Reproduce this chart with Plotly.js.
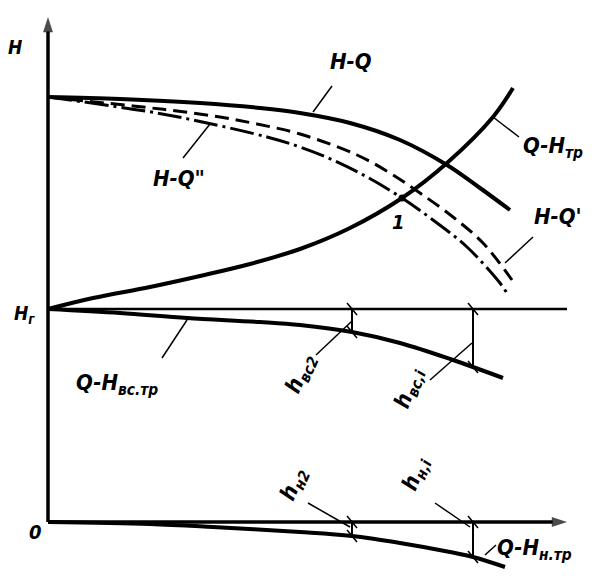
<!DOCTYPE html>
<html><head><meta charset="utf-8">
<script src="https://cdn.plot.ly/plotly-3.0.1.min.js"></script>
<style>html,body{margin:0;padding:0;background:#fff}</style>
</head><body><div id="chart" style="width:604px;height:586px"></div>
<script>
// ---- data (Q, H in drawing units; origin at O) ----
const Hg = 213;
const qHQ   = [0, 72, 152, 212, 252, 302, 352, 399, 432, 462];
const hHQ   = [425, 423, 419, 414, 409, 399, 382, 357, 334, 312];
const qHQ1  = [0, 85, 129, 172, 209, 252, 309, 342, 372, 405, 435, 464];
const hHQ1  = [425, 416, 411, 405, 398, 388, 367, 349, 329, 305, 279, 242];
const qHQ2  = [0, 109, 159, 219, 252, 285, 319, 354, 385, 419, 452, 460];
const hHQ2  = [425, 409, 399, 385, 375, 362, 345, 324, 302, 275, 239, 227];
const qTr   = [0, 45, 102, 152, 202, 252, 302, 354, 399, 445, 465];
const hTr   = [213, 224, 235, 246, 258, 273, 294, 324, 359, 405, 434];
const qVs   = [0, 72, 139, 212, 252, 304, 352, 405, 455];
const hVs   = [213, 209, 204, 200, 197, 190, 179, 162, 144];
const qN    = [0, 102, 165, 252, 304, 352, 402, 425, 457];
const hN    = [0, -2, -5, -10, -14, -21, -30, -35, -45];
const qEnd  = 519;             // end of Hg line / Q axis
const hTop  = 505;             // top of H axis
const dimQ  = [304, 425];      // Q2, Qi
const lossVs = [23, 58];       // h_вс2, h_вс,i
const lossN  = [14, 35];       // h_н2, h_н,i
const point1 = [354, 324];

const traces = [];
const blk = '#000';
function line(x, y, w, dash, shape) {
  traces.push({x: x, y: y, mode: 'lines', hoverinfo: 'skip', showlegend: false,
    line: {color: blk, width: w, dash: dash || 'solid', shape: shape || 'spline', smoothing: 1}});
}
function axis(x, y) {
  traces.push({x: x, y: y, mode: 'lines+markers', hoverinfo: 'skip', showlegend: false,
    line: {color: blk, width: 3.5},
    marker: {symbol: 'arrow', angleref: 'previous', size: [0, 16], color: blk, line: {width: 0}}});
}
axis([0, 0], [0, hTop]);
axis([0, qEnd], [0, 0]);
line(qHQ, hHQ, 4);
line(qHQ1, hHQ1, 3, '14px,7px');
line(qHQ2, hHQ2, 3, '24px,5px,3px,5px');
line(qTr, hTr, 4);
line(qVs, hVs, 4);
line(qN, hN, 4);
line([0, qEnd], [Hg, Hg], 2.5, 'solid', 'linear');
for (let i = 0; i < dimQ.length; i++) {
  const q = dimQ[i];
  line([q, q], [Hg, Hg - lossVs[i]], 2, 'solid', 'linear');
  line([q, q], [0, -lossN[i]], 2, 'solid', 'linear');
  [Hg, Hg - lossVs[i], 0, -lossN[i]].forEach(function (h) {
    line([q - 5, q + 5], [h + 6, h - 6], 1.5, 'solid', 'linear');
  });
}
traces.push({x: [point1[0]], y: [point1[1]], mode: 'markers', hoverinfo: 'skip', showlegend: false,
  marker: {color: blk, size: 7}});

const FAM = 'DejaVu Sans Condensed, Liberation Sans Narrow, sans-serif';
function lab(x, y, t, size, opts) {
  return Object.assign({x: x, y: y, xref: 'x', yref: 'y', text: '<i>' + t + '</i>', showarrow: false,
    font: {family: FAM, size: size, color: blk, weight: 'bold'}, xanchor: 'center', yanchor: 'middle'}, opts || {});
}
const L = {xanchor: 'left'};
function leader(x0, y0, x1, y1) {
  return {type: 'line', xref: 'x', yref: 'y', x0: x0, y0: y0, x1: x1, y1: y1, line: {color: blk, width: 1.5}};
}
const annotations = [
  lab(-33, 475, 'H', 19),
  lab(-24, 208, 'H<sub>г</sub>', 19),
  lab(-13, -10, '0', 20),
  lab(303, 461, 'H-Q', 22),
  lab(473, 375, 'Q-H<sub>тр</sub>', 22, L),
  lab(484, 306, "H-Q'", 22, L),
  lab(103, 344, 'H-Q"', 22, L),
  lab(350, 300, '1', 20),
  lab(26, 138, 'Q-H<sub>вс.тр</sub>', 22, L),
  lab(253, 148, 'h<sub>вс2</sub>', 22, {textangle: -66}),
  lab(361, 133, 'h<sub>вс,i</sub>', 22, {textangle: -70}),
  lab(246, 37, 'h<sub>н2</sub>', 22, {textangle: -66}),
  lab(368, 48, 'h<sub>н,i</sub>', 22, {textangle: -68}),
  lab(447, -27, 'Q-H<sub>н.тр</sub>', 22, L)
];
const shapes = [
  leader(284, 436, 265, 410),
  leader(445, 405, 471, 385),
  leader(485, 285, 457, 259),
  leader(135, 364, 162, 398),
  leader(114, 164, 139, 202),
  leader(268, 167, 304, 201),
  leader(382, 142, 424, 179),
  leader(260, 19, 302, -5),
  leader(387, 19, 422, -5),
  leader(437, -33, 448, -23)
];
const layout = {
  width: 604, height: 586, margin: {l: 0, r: 0, t: 0, b: 0},
  paper_bgcolor: '#fff', plot_bgcolor: '#fff',
  xaxis: {range: [-48, 556], visible: false, fixedrange: true},
  yaxis: {range: [-64, 522], visible: false, fixedrange: true},
  annotations: annotations, shapes: shapes, showlegend: false
};
Plotly.newPlot('chart', traces, layout, {staticPlot: true});
</script></body></html>
